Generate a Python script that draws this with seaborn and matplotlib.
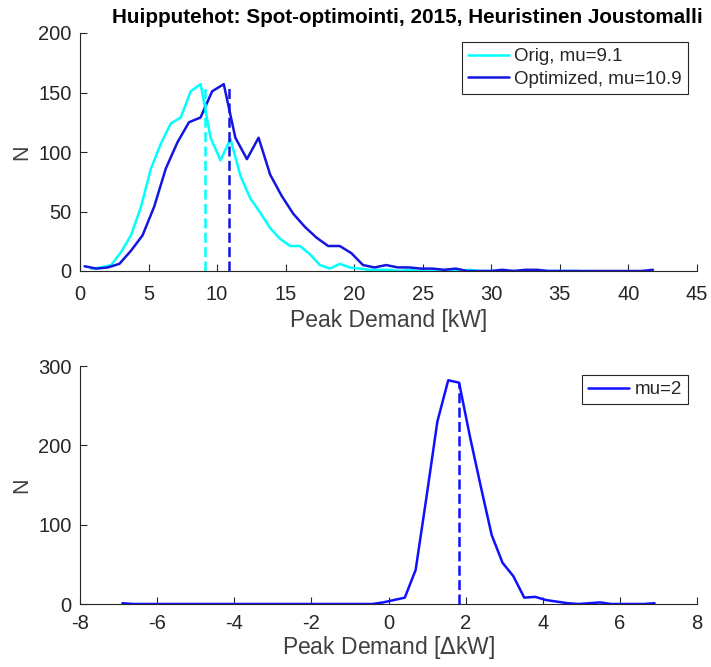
import numpy as np
import pandas as pd
import matplotlib
matplotlib.use('Agg')
import matplotlib.pyplot as plt
import seaborn as sns

# histogram counts (50 bins per series)
orig_edges = (0.46, 36.71)
orig_counts = [2, 3, 5, 16, 30, 54, 86, 107, 124, 129,
               151, 157, 112, 93, 111, 80, 61, 49, 36, 27,
               21, 21, 14, 5, 2, 6, 3, 2, 1, 1,
               1, 0, 1, 0, 0, 1, 0, 0, 1, 0,
               0, 0, 0, 0, 0, 0, 0, 0, 0, 0]

opt_edges = (-0.09, 42.21)
opt_counts = [4, 2, 3, 6, 17, 30, 54, 86, 108, 125,
              129, 151, 157, 112, 94, 112, 81, 63, 48, 37,
              28, 21, 21, 15, 5, 3, 5, 3, 3, 2,
              2, 1, 2, 0, 0, 0, 1, 0, 1, 1,
              0, 0, 0, 0, 0, 0, 0, 0, 0, 1]

diff_edges = (-7.04, 7.04)
diff_counts = [1, 0, 0, 0, 0, 0, 0, 0, 0, 0,
               0, 0, 0, 0, 0, 0, 0, 0, 0, 0,
               0, 0, 0, 0, 2, 5, 8, 43, 135, 230,
               282, 279, 211, 148, 87, 52, 35, 8, 9, 5,
               3, 1, 0, 1, 2, 0, 0, 0, 0, 1]

mu_orig, mu_opt, mu_diff = 9.1, 10.9, 1.83
mean_line_top = 156
mean_line_bottom = 278


def centers(edges, n):
    e = np.linspace(edges[0], edges[1], n + 1)
    return (e[:-1] + e[1:]) / 2


df_top = pd.concat([
    pd.DataFrame({'kw': centers(orig_edges, len(orig_counts)), 'n': orig_counts,
                  'series': 'Orig, mu=9.1'}),
    pd.DataFrame({'kw': centers(opt_edges, len(opt_counts)), 'n': opt_counts,
                  'series': 'Optimized, mu=10.9'}),
])
df_bottom = pd.DataFrame({'dkw': centers(diff_edges, len(diff_counts)), 'n': diff_counts,
                          'series': 'mu=2'})

sns.set_style('ticks')
plt.rcParams['font.family'] = ['Liberation Sans', 'DejaVu Sans']
plt.rcParams['axes.unicode_minus'] = False

cyan = '#00ffff'
blue_top = '#1515e0'
blue_bottom = '#1010ff'
dark = '#262626'
dash = (0, (4, 1.75))

fig = plt.figure(figsize=(7.11, 6.67), dpi=100)
ax1 = fig.add_axes([80 / 711, 1 - 271 / 667, 617 / 711, 238 / 667])
ax2 = fig.add_axes([80 / 711, 1 - 604 / 667, 617 / 711, 238 / 667])

# top: original vs optimized peak demand
sns.lineplot(data=df_top, x='kw', y='n', hue='series',
             palette={'Orig, mu=9.1': cyan, 'Optimized, mu=10.9': blue_top},
             linewidth=1.8, ax=ax1)
ax1.vlines(mu_orig, 0, mean_line_top, colors=cyan, linestyles=dash, linewidth=1.8)
ax1.vlines(mu_opt, 0, mean_line_top, colors=blue_top, linestyles=dash, linewidth=1.8)
ax1.set_xlim(0, 45)
ax1.set_ylim(0, 200)
ax1.set_xticks(np.arange(0, 46, 5))
ax1.set_yticks(np.arange(0, 201, 50))
ax1.set_xlabel('Peak Demand [kW]', fontsize=16.5, color='#404040', labelpad=4)
ax1.set_ylabel('N', fontsize=15.5, color='#404040')
ax1.set_title('Huipputehot: Spot-optimointi, 2015, Heuristinen Joustomalli',
              fontsize=14.9, fontweight='bold', color='black', pad=7, x=0.53)

# bottom: difference
sns.lineplot(data=df_bottom, x='dkw', y='n', hue='series',
             palette={'mu=2': blue_bottom}, linewidth=1.8, ax=ax2)
ax2.vlines(mu_diff, 0, mean_line_bottom, colors=blue_bottom, linestyles=dash, linewidth=1.8)
ax2.set_xlim(-8, 8)
ax2.set_ylim(0, 300)
ax2.set_xticks(np.arange(-8, 9, 2))
ax2.set_yticks(np.arange(0, 301, 100))
ax2.set_xlabel('Peak Demand [$\\Delta$kW]', fontsize=16.5, color='#404040', labelpad=1)
ax2.set_ylabel('N', fontsize=15.5, color='#404040')

for ax in (ax1, ax2):
    sns.despine(ax=ax)
    for s in ('left', 'bottom'):
        ax.spines[s].set_color(dark)
        ax.spines[s].set_linewidth(0.8)
    ax.tick_params(direction='in', length=5, width=0.8, colors=dark, labelsize=14.5)
    ax.tick_params(axis='y', pad=6)
    h, l = ax.get_legend_handles_labels()
    leg = ax.legend(h, l, loc='upper right', fontsize=13.5, frameon=True,
                    fancybox=False, edgecolor=dark, framealpha=1,
                    handlelength=2.2, handletextpad=0.3, borderpad=0.3,
                    labelspacing=0.3, borderaxespad=0.5)
    leg.get_frame().set_linewidth(0.8)

ax1.tick_params(axis='x', pad=10)
ax2.tick_params(axis='x', pad=7)

fig.savefig('out.png', dpi=100)
